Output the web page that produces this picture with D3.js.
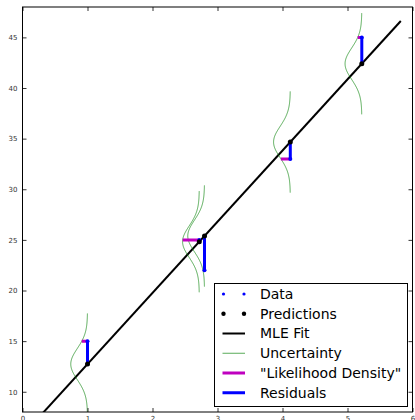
<!DOCTYPE html>
<html><head><meta charset="utf-8">
<script src="https://cdn.jsdelivr.net/npm/d3@7"></script>
<style>body{margin:0;background:#fff;} svg{display:block;}</style>
</head><body>
<svg id="c" width="415" height="420"></svg>
<script>
// ---- data ----
const xData = [1.0, 2.72, 2.80, 4.12, 5.22];
const yData = [15, 25, 22, 33, 45];
const fitIntercept = 5.70;
const fitSlope = 7.03;
const fitXRange = [0, 5.82];
const sigma = 1.55;
const curveHalfSpan = 5;
const xTicks = [0, 1, 2, 3, 4, 5, 6];
const yTicks = [10, 15, 20, 25, 30, 35, 40, 45];
const legendLabels = ["Data", "Predictions", "MLE Fit", "Uncertainty", "\"Likelihood Density\"", "Residuals"];

const svg = d3.select("#c");
const x = d3.scaleLinear().domain([0, 6]).range([22.5, 412.5]);
const y = d3.scaleLinear().domain([8, 48]).range([412, 7]);
const pred = xi => fitIntercept + fitSlope * xi;
const pdf = d => Math.exp(-d * d / (2 * sigma * sigma)) / (sigma * Math.sqrt(2 * Math.PI));

svg.append("defs").append("clipPath").attr("id", "clip")
  .append("rect").attr("x", x(0)).attr("y", y(48)).attr("width", x(6) - x(0)).attr("height", y(8) - y(48));
const g = svg.append("g").attr("clip-path", "url(#clip)");

// fit line
g.append("path")
  .attr("d", d3.line().x(d => x(d)).y(d => y(pred(d)))(fitXRange))
  .attr("stroke", "#000").attr("stroke-width", 2).attr("fill", "none");

// uncertainty curves
xData.forEach(xi => {
  const mu = pred(xi);
  const pts = d3.range(-curveHalfSpan, curveHalfSpan + 0.001, 0.05).map(d => [xi - pdf(d), mu + d]);
  g.append("path")
    .attr("d", d3.line().x(p => x(p[0])).y(p => y(p[1]))(pts))
    .attr("stroke", "#008000").attr("stroke-opacity", 0.65).attr("stroke-width", 1).attr("fill", "none");
});

// likelihood density
xData.forEach((xi, i) => {
  const d = yData[i] - pred(xi);
  g.append("line")
    .attr("x1", x(xi - pdf(d))).attr("x2", x(xi))
    .attr("y1", y(yData[i])).attr("y2", y(yData[i]))
    .attr("stroke", "#bf00bf").attr("stroke-width", 3);
});

// residuals
xData.forEach((xi, i) => {
  g.append("line")
    .attr("x1", x(xi)).attr("x2", x(xi))
    .attr("y1", y(yData[i])).attr("y2", y(pred(xi)))
    .attr("stroke", "#0000ff").attr("stroke-width", 3);
});

// data points
g.selectAll(".dp").data(xData).enter().append("circle")
  .attr("cx", d => x(d)).attr("cy", (d, i) => y(yData[i])).attr("r", 2).attr("fill", "#0000ff");
// predictions
g.selectAll(".pp").data(xData).enter().append("circle")
  .attr("cx", d => x(d)).attr("cy", d => y(pred(d))).attr("r", 2.5).attr("fill", "#000");

// axes (ticks inward, all four sides)
const fmt = d3.format("d");
const axB = svg.append("g").attr("transform", `translate(0,${y(8)})`)
  .call(d3.axisBottom(x).tickValues(xTicks).tickSizeInner(-4).tickSizeOuter(0).tickPadding(4).tickFormat(fmt));
const axT = svg.append("g").attr("transform", `translate(0,${y(48)})`)
  .call(d3.axisTop(x).tickValues(xTicks).tickSizeInner(-4).tickSizeOuter(0).tickFormat(""));
const axL = svg.append("g").attr("transform", `translate(${x(0)},0)`)
  .call(d3.axisLeft(y).tickValues(yTicks).tickSizeInner(-4).tickSizeOuter(0).tickPadding(5).tickFormat(fmt));
const axR = svg.append("g").attr("transform", `translate(${x(6)},0)`)
  .call(d3.axisRight(y).tickValues(yTicks).tickSizeInner(-4).tickSizeOuter(0).tickFormat(""));
[axB, axT, axL, axR].forEach(a => {
  a.select(".domain").remove();
  a.selectAll("line").attr("stroke", "#000").attr("stroke-width", 0.8);
  a.selectAll("text").attr("font-family", "DejaVu Sans").attr("font-size", 7).attr("fill", "#333");
});
svg.append("rect").attr("x", x(0)).attr("y", y(48)).attr("width", x(6) - x(0)).attr("height", y(8) - y(48))
  .attr("fill", "none").attr("stroke", "#000").attr("stroke-width", 1);

// legend
const lg = svg.append("g");
const lx = 214.5, ly = 283.5, lw = 193, lh = 123;
lg.append("rect").attr("x", lx).attr("y", ly).attr("width", lw).attr("height", lh)
  .attr("fill", "#fff").attr("stroke", "#000").attr("stroke-width", 1);
const rowY = i => 294 + i * 19.75;
const h1 = 223.5, h2 = 244;
legendLabels.forEach((t, i) => {
  const yy = rowY(i);
  if (i === 0) {
    [h1, h2].forEach(hx => lg.append("circle").attr("cx", hx).attr("cy", yy).attr("r", 1.6).attr("fill", "#0000ff"));
  } else if (i === 1) {
    [h1, h2].forEach(hx => lg.append("circle").attr("cx", hx).attr("cy", yy).attr("r", 2.2).attr("fill", "#000"));
  } else {
    const st = [null, null, ["#000", 2, 1], ["#008000", 1, 0.65], ["#bf00bf", 3, 1], ["#0000ff", 3, 1]][i];
    lg.append("line").attr("x1", h1 - 1).attr("x2", h2 + 1).attr("y1", yy).attr("y2", yy)
      .attr("stroke", st[0]).attr("stroke-width", st[1]).attr("stroke-opacity", st[2]);
  }
  lg.append("text").attr("x", 260).attr("y", yy).attr("dy", "0.35em")
    .attr("font-family", "DejaVu Sans").attr("font-size", 14).attr("fill", "#000").text(t);
});
</script>
</body></html>
